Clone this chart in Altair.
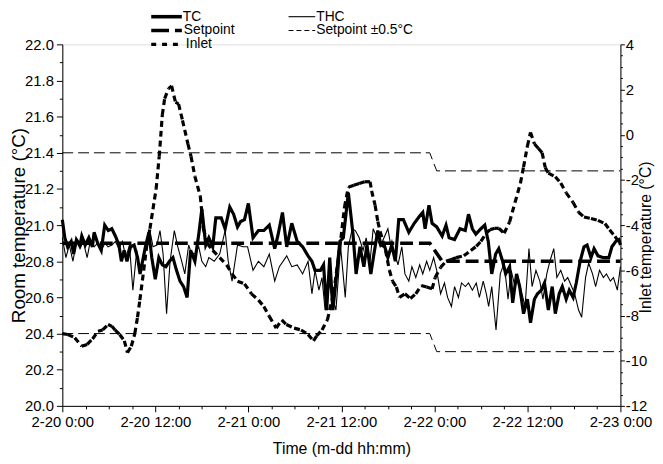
import altair as alt
import pandas as pd

FONT = "Liberation Sans"

# ---------------- data ----------------
tc_hours = [0.0, 0.32, 0.68, 1.14, 1.46, 1.82, 2.28, 2.51, 2.96, 3.42,
            3.88, 4.10, 4.56, 5.02, 5.47, 5.93, 6.38, 6.84, 7.30, 7.62,
            7.98, 8.34, 8.80, 9.26, 9.71, 10.03, 10.35, 10.72, 11.17, 11.54,
            11.99, 12.45, 12.90, 13.36, 13.82, 14.27, 14.73, 15.18, 15.64, 16.10,
            16.55, 17.1, 17.6, 18.0, 18.5, 18.9, 19.4, 19.8, 20.5, 21.0,
            21.6, 22.1, 22.6, 23.0, 23.5, 24.0, 24.6, 25.3, 26.0, 26.7,
            27.4, 27.8, 28.4, 28.95, 29.6, 30.3, 31.0, 31.7, 32.2, 32.6,
            33.3, 33.7, 34.1, 34.5, 34.9, 35.3, 35.8, 36.25, 36.9, 37.5,
            37.9, 38.4, 38.9, 39.3, 39.8, 40.2, 40.7, 41.1, 41.6, 42.0,
            42.5, 42.96, 43.4, 44.0, 44.7, 45.4, 46.1, 46.5, 46.8, 47.3,
            47.7, 48.3, 49.0, 49.5, 49.9, 50.6, 51.3, 51.98, 52.4, 52.9,
            53.35, 54.0, 54.5, 54.95, 55.4, 55.9, 56.3, 56.8, 57.2, 57.7,
            58.1, 58.6, 59.0, 59.5, 60.0, 60.4, 60.9, 61.3, 61.8, 62.2,
            62.7, 63.2, 63.6, 64.1, 64.5, 65.0, 65.4, 65.9, 66.3, 66.8,
            67.3, 67.7, 68.2, 68.6, 69.1, 69.8, 70.5, 70.9, 71.4, 71.8,
            72.0]
tc_values = [21.03, 20.93, 20.88, 20.91, 20.84, 20.92, 20.89, 20.94, 20.89, 20.93,
             20.88, 20.96, 20.90, 20.86, 21.00, 20.97, 20.98, 20.94, 20.89, 20.80,
             20.86, 20.80, 20.88, 20.89, 20.82, 20.73, 20.80, 20.88, 20.96, 20.82,
             20.70, 20.82, 20.78, 20.77, 20.80, 20.82, 20.75, 20.69, 20.66, 20.60,
             20.86, 20.80, 20.95, 21.09, 20.89, 20.93, 20.88, 21.04, 21.04, 20.98,
             21.10, 21.06, 20.99, 21.02, 21.03, 21.12, 20.93, 20.97, 20.97, 21.00,
             20.87, 20.94, 21.07, 20.88, 21.01, 20.91, 20.88, 20.83, 20.80, 20.75,
             20.75, 20.78, 20.53, 20.82, 20.53, 20.69, 20.91, 20.93, 21.18, 20.95,
             20.73, 20.88, 20.77, 20.89, 20.73, 20.84, 20.97, 20.89, 20.88, 20.82,
             20.89, 20.80, 21.03, 21.03, 20.96, 21.01, 21.05, 21.07, 20.98, 21.11,
             21.01, 20.99, 20.94, 21.00, 20.93, 20.92, 20.98, 20.97, 21.06, 20.98,
             20.95, 20.98, 21.00, 20.91, 20.73, 20.84, 20.87, 20.80, 20.73, 20.77,
             20.57, 20.73, 20.66, 20.51, 20.59, 20.46, 20.59, 20.62, 20.64, 20.68,
             20.53, 20.66, 20.51, 20.62, 20.66, 20.59, 20.64, 20.60, 20.68, 20.80,
             20.88, 20.89, 20.82, 20.87, 20.83, 20.82, 20.82, 20.88, 20.91, 20.92,
             20.89]

thc_hours = [0.0, 0.46, 0.9, 1.37, 1.82, 2.28, 2.7, 3.2, 3.65, 4.1,
             4.56, 5.0, 5.5, 5.9, 6.4, 6.84, 7.3, 7.75, 8.2, 8.66,
             9.1, 9.6, 10.0, 10.5, 10.9, 11.3, 11.7, 12.2, 12.6, 13.0,
             13.45, 13.9, 14.45, 14.9, 15.4, 15.8, 16.3, 16.6, 17.1, 17.6,
             18.0, 18.5, 18.9, 19.6, 20.3, 21.0, 21.4, 21.9, 22.6, 23.3,
             23.9, 24.6, 25.3, 26.0, 26.7, 27.4, 28.0, 28.95, 29.6, 30.3,
             31.0, 31.7, 32.2, 32.6, 33.1, 33.5, 33.9, 34.3, 34.9, 35.3,
             35.9, 36.5, 36.9, 37.4, 37.8, 38.3, 38.8, 39.2, 39.7, 40.1,
             40.6, 41.0, 41.5, 42.0, 42.4, 42.9, 43.3, 43.8, 44.2, 44.7,
             45.1, 45.6, 46.1, 46.5, 47.0, 47.4, 47.9, 48.3, 48.8, 49.3,
             49.7, 50.2, 50.6, 51.1, 51.5, 52.0, 52.4, 52.9, 53.4, 53.8,
             54.3, 54.7, 55.0, 55.4, 55.95, 56.5, 57.0, 57.5, 57.9, 58.4,
             58.8, 59.3, 59.7, 60.2, 60.6, 61.1, 61.6, 62.0, 62.5, 62.9,
             63.4, 63.8, 64.3, 64.8, 65.2, 65.7, 66.1, 66.6, 67.0, 67.5,
             67.9, 68.4, 68.8, 69.3, 69.8, 70.2, 70.7, 71.1, 71.6, 72.0]
thc_values = [20.93, 20.82, 20.89, 20.80, 20.91, 20.87, 20.91, 20.82, 20.92, 20.88,
              20.90, 20.86, 20.90, 20.88, 20.89, 20.91, 20.87, 20.91, 20.82, 20.89,
              20.64, 20.86, 20.73, 20.84, 20.91, 20.97, 20.88, 20.89, 20.97, 20.84,
              20.51, 20.80, 20.97, 20.88, 20.80, 20.73, 20.89, 20.85, 20.84, 20.88,
              20.80, 20.77, 20.82, 20.80, 20.84, 20.97, 20.80, 20.69, 20.89, 20.88,
              20.88, 20.75, 20.80, 20.77, 20.84, 20.69, 20.77, 20.83, 20.77, 20.78,
              20.73, 20.80, 20.62, 20.75, 20.64, 20.71, 20.53, 20.69, 20.59, 20.53,
              20.88, 20.60, 20.88, 20.98, 20.97, 20.93, 20.86, 20.93, 20.80, 20.98,
              20.93, 20.88, 20.93, 20.98, 20.88, 20.84, 20.78, 20.88, 20.73, 20.69,
              20.77, 20.71, 20.78, 20.73, 20.80, 20.75, 20.82, 20.75, 20.62, 20.68,
              20.60, 20.55, 20.66, 20.60, 20.68, 20.66, 20.68, 20.64, 20.68, 20.60,
              20.69, 20.62, 20.55, 20.66, 20.42, 20.73, 20.79, 20.59, 20.75, 20.66,
              20.71, 20.62, 20.55, 20.87, 20.66, 20.75, 20.69, 20.59, 20.73, 20.80,
              20.87, 20.71, 20.75, 20.69, 20.71, 20.66, 20.62, 20.53, 20.49, 20.71,
              20.79, 20.73, 20.66, 20.75, 20.71, 20.73, 20.69, 20.71, 20.64, 20.77]

inlet_hours = [0.0, 0.7, 1.6, 2.5, 3.2, 3.9, 4.6, 5.2, 5.9, 6.4,
               6.8, 7.4, 8.0, 8.4, 8.9, 9.35, 9.7, 10.0, 10.5, 10.9,
               11.3, 12.1, 12.5, 12.9, 13.2, 13.7, 14.1, 14.6, 15.0, 15.5,
               16.2, 16.6, 17.1, 17.8, 18.2, 18.7, 19.4, 20.3, 21.2, 21.9,
               22.6, 23.5, 24.4, 25.3, 26.0, 26.7, 27.6, 28.3, 28.9, 29.9,
               30.8, 31.7, 32.4, 32.8, 33.5, 34.2, 35.0, 35.8, 36.4, 36.9,
               37.6, 38.3, 39.0, 39.7, 39.9, 40.35, 40.7, 41.0, 41.7, 42.2,
               42.6, 43.1, 43.5, 44.2, 44.9, 45.6, 46.3, 47.0, 47.7, 48.1,
               48.8, 49.5, 50.2, 50.8, 51.8, 52.7, 53.4, 54.0, 54.7, 55.2,
               55.8, 56.3, 57.0, 57.7, 58.4, 59.1, 59.5, 60.0, 60.4, 60.9,
               61.4, 61.9, 62.3, 62.7, 63.6, 64.3, 65.0, 65.9, 66.6, 67.3,
               68.2, 69.1, 70.0, 70.6, 71.3, 72.0]
inlet_values = [-8.8, -8.84, -8.98, -9.36, -9.28, -9.04, -8.70, -8.64, -8.4, -8.48,
                -8.64, -8.84, -9.12, -9.64, -9.36, -8.8, -8.08, -7.32, -6.0, -4.88,
                -4.16, -2.4, -0.96, 0.88, 1.6, 2.04, 2.16, 1.44, 1.36, 0.64,
                -0.4, -0.96, -1.84, -2.72, -4.16, -4.8, -5.12, -5.44, -5.76, -6.16,
                -6.48, -6.6, -7.04, -7.32, -7.6, -8.04, -8.56, -8.19, -8.4, -8.56,
                -8.64, -8.84, -9.12, -8.91, -8.64, -8.19, -7.0, -5.0, -3.2, -2.32,
                -2.24, -2.16, -2.08, -2.08, -2.48, -3.12, -3.84, -4.28, -5.12, -6.0,
                -6.48, -6.74, -7.2, -7.04, -7.25, -7.04, -6.67, -6.74, -6.82, -6.32,
                -5.87, -5.6, -5.52, -5.44, -5.36, -5.12, -4.94, -4.72, -4.35, -4.2,
                -4.14, -4.14, -4.36, -3.86, -3.0, -2.14, -1.43, -0.5, 0.1, -0.4,
                -0.6, -0.8, -1.45, -1.7, -1.86, -2.14, -2.57, -3.0, -3.43, -3.64,
                -3.71, -3.79, -3.93, -4.21, -4.5, -4.86]

setpoint_hours = [0, 47.4, 49.0, 72]
setpoint_values = [20.9, 20.9, 20.8, 20.8]
band_hours = [0, 47.4, 48.3, 72]
band_upper = [21.4, 21.4, 21.3, 21.3]
band_lower = [20.4, 20.4, 20.3, 20.3]

x_tick_values = list(range(0, 73, 3))
left_tick_values = [round(20 + 0.1 * i, 1) for i in range(21)]
right_tick_values = [-12 + 0.5 * i for i in range(33)]

# ---------------- tables ----------------
tc_df = pd.DataFrame({"h": tc_hours, "v": tc_values})
thc_df = pd.DataFrame({"h": thc_hours, "v": thc_values})
sp_df = pd.DataFrame({"h": setpoint_hours, "v": setpoint_values})
band_df = pd.DataFrame({
    "h": band_hours + band_hours,
    "v": band_upper + band_lower,
    "s": ["upper"] * len(band_hours) + ["lower"] * len(band_hours),
})
inlet_seg = pd.DataFrame({
    "h": inlet_hours[:-1], "h2": inlet_hours[1:],
    "v": inlet_values[:-1], "v2": inlet_values[1:],
})

# ---------------- scales & axes ----------------
W, H = 565, 366
XS = alt.Scale(domain=[0, 72], nice=False, zero=False)
YL = alt.Scale(domain=[20, 22], nice=False, zero=False)
YR = alt.Scale(domain=[-12, 4], nice=False, zero=False)

common = dict(grid=False, labelOverlap=False, labelFlush=False,
              domainColor="black", tickColor="black",
              labelColor="black", titleColor="black", titleFontWeight="normal",
              labelFont=FONT, titleFont=FONT, labelFontSize=15,
              domainWidth=1, tickWidth=1)

x_axis = alt.Axis(
    values=x_tick_values,
    labelExpr="datum.value % 12 == 0 ? '2-' + (20 + floor(datum.value / 24)) + ' ' + (datum.value % 24) + ':00' : ''",
    tickSize={"condition": {"test": "datum.value % 12 == 0", "value": 6}, "value": 3},
    title="Time (m-dd hh:mm)", titleFontSize=16, labelPadding=3, titlePadding=11, **common)

left_axis = alt.Axis(
    values=left_tick_values, orient="left",
    labelExpr="round(datum.value * 10) % 2 == 0 ? format(datum.value, '.1f') : ''",
    tickSize={"condition": {"test": "round(datum.value * 10) % 2 == 0", "value": 6}, "value": 3},
    title="Room temperature (°C)", titleFontSize=19, labelPadding=3,
    titleX=-44, titleY=H / 2, titleAngle=270, titleAlign="center", titleBaseline="middle",
    **common)

right_axis = alt.Axis(
    values=right_tick_values, orient="right",
    labelExpr="datum.value % 2 == 0 ? '' + datum.value : ''",
    tickSize={"condition": {"test": "datum.value % 2 == 0", "value": 4}, "value": 2},
    title="Inlet temperature (°C)", titleFontSize=16, labelPadding=1,
    titleX=25, titleY=H / 2 + 12, titleAngle=270, titleAlign="center", titleBaseline="middle",
    **common)

X = alt.X("h:Q", scale=XS, axis=x_axis)
YLenc = alt.Y("v:Q", scale=YL, axis=left_axis)

thc = alt.Chart(thc_df).mark_line(color="black", strokeWidth=1.1).encode(x=X, y=YLenc)
tc = alt.Chart(tc_df).mark_line(color="black", strokeWidth=3.2, strokeJoin="miter").encode(x=X, y=YLenc)
sp = alt.Chart(sp_df).mark_line(color="black", strokeWidth=3.6, strokeDash=[13, 6]).encode(x=X, y=YLenc)
bands = alt.Chart(band_df).mark_line(color="black", strokeWidth=1, strokeDash=[11, 5]).encode(
    x=X, y=YLenc, detail="s:N")

# ---------------- legend (drawn by hand) ----------------
dummy = alt.Data(values=[{"a": 1}])

def leg_line(x1, x2, y, width, dash=None):
    kw = dict(color="black", strokeWidth=width)
    if dash:
        kw["strokeDash"] = dash
    return alt.Chart(dummy).mark_rule(**kw).encode(
        x=alt.value(x1), x2=alt.value(x2), y=alt.value(y))

def leg_text(txt, x, y):
    return alt.Chart(dummy).mark_text(text=txt, align="left", baseline="middle",
                                      font=FONT, fontSize=14, color="black").encode(
        x=alt.value(x), y=alt.value(y))

legend = [
    leg_line(90, 121, -28, 3.6), leg_text("TC", 122, -28),
    leg_line(229, 256, -28, 1.1), leg_text("THC", 257, -28),
    leg_line(90, 121, -14, 3.6, [18, 6]), leg_text("Setpoint", 123, -14),
    leg_line(229, 256, -14, 1, [5, 3]), leg_text("Setpoint ±0.5°C", 257, -14),
    leg_line(90, 121, 0, 3.2, [5, 6]), leg_text("Inlet", 125, 0),
]

left_group = alt.layer(thc, tc, sp, bands, *legend)

inlet = alt.Chart(inlet_seg).mark_rule(color="black", strokeWidth=3.2, strokeDash=[6, 4]).encode(
    x=X, x2="h2:Q",
    y=alt.Y("v:Q", scale=YR, axis=right_axis), y2="v2:Q")

chart = alt.layer(left_group, inlet).resolve_scale(y="independent").properties(
    width=W, height=H,
    autosize=alt.AutoSizeParams(type="none"),
    padding={"left": 55, "top": 34, "right": 35, "bottom": 53},
).configure_view(stroke=None).configure(background="white")

chart.save("out.html", embed_options={"renderer": "svg", "actions": False})
